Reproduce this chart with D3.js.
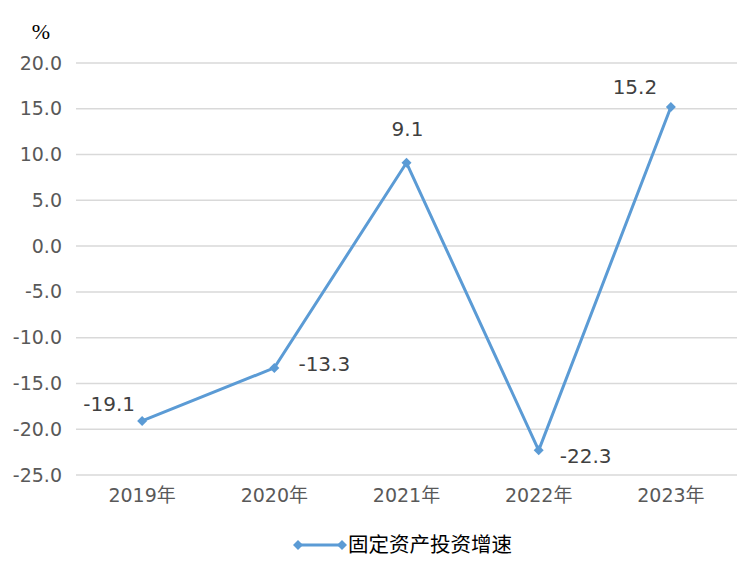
<!DOCTYPE html>
<html>
<head>
<meta charset="utf-8">
<script src="https://cdn.jsdelivr.net/npm/d3@7"></script>
<style>
  body { margin: 0; background: #fff; }
  svg text { font-family: "DejaVu Sans", "Noto Sans CJK SC", sans-serif; }
</style>
</head>
<body>
<div id="chart"></div>
<script>
// values
const years = ['2019年', '2020年', '2021年', '2022年', '2023年'];
const growth = [-19.1, -13.3, 9.1, -22.3, 15.2];
const yTicks = [20, 15, 10, 5, 0, -5, -10, -15, -20, -25];
const seriesName = '固定资产投资增速';

const width = 751, height = 571;
const margin = {top: 63, right: 14, bottom: 96, left: 76};
const innerW = width - margin.left - margin.right,
  innerH = height - margin.top - margin.bottom;
const blue = '#5B9BD5';
// plain hyphen instead of d3's unicode minus
const fmt = d => d.toFixed(1);

const svg = d3.select('#chart').append('svg')
  .attr('width', width)
  .attr('height', height);

const x = d3.scaleBand().domain(years).range([0, innerW]);
const y = d3.scaleLinear().domain([-25, 20]).range([innerH, 0]);

const g = svg.append('g')
  .attr('transform', `translate(${margin.left},${margin.top})`);

// gridlines
g.selectAll('line.grid')
  .data(yTicks)
  .enter().append('line')
    .attr('class', 'grid')
    .attr('x1', 0).attr('x2', innerW)
    .attr('y1', d => y(d)).attr('y2', d => y(d))
    .style('stroke', '#d9d9d9')
    .style('stroke-width', 1.5);

// y axis labels
const yAxis = d3.axisLeft(y).tickValues(yTicks).tickFormat(fmt).tickSize(0).tickPadding(14);
g.append('g').call(yAxis)
  .call(s => s.select('.domain').remove())
  .call(s => s.selectAll('text').style('font-family', '"DejaVu Sans", sans-serif').style('font-size', '19px').style('fill', '#595959'));

// x axis labels
const xAxis = d3.axisBottom(x).tickSize(0).tickPadding(14);
g.append('g').attr('transform', `translate(0,${innerH})`).call(xAxis)
  .call(s => s.select('.domain').remove())
  .call(s => s.selectAll('text')
    .style('font-family', '"DejaVu Sans", "Noto Sans CJK SC", sans-serif')
    .style('font-size', '19px').style('fill', '#595959'));

// percent unit
svg.append('text')
  .attr('x', 41).attr('y', 39)
  .attr('text-anchor', 'middle')
  .style('font-family', '"Liberation Serif", "DejaVu Serif", serif')
  .style('font-size', '22px')
  .style('fill', '#000')
  .text('%');

const cx = d => x(d.year) + x.bandwidth() / 2;
const pts = years.map((yr, i) => ({year: yr, v: growth[i]}));

const line = d3.line().x(cx).y(d => y(d.v));
g.append('path')
  .datum(pts)
  .attr('d', line)
  .style('fill', 'none')
  .style('stroke', blue)
  .style('stroke-width', 3);

// square diamond marker
const diamond = d3.symbol().type(d3.symbolSquare).size(50);
g.selectAll('path.marker')
  .data(pts)
  .enter().append('path')
    .attr('class', 'marker')
    .attr('d', diamond)
    .attr('transform', d => `translate(${cx(d)},${y(d.v)}) rotate(45)`)
    .style('fill', blue);

// data labels: offsets relative to each point
const labelOffsets = [[-33, -17], [50, -4], [1, -34], [47, 6], [-36, -20]];
g.selectAll('text.lbl')
  .data(pts)
  .enter().append('text')
    .attr('class', 'lbl')
    .attr('x', (d, i) => cx(d) + labelOffsets[i][0])
    .attr('y', (d, i) => y(d.v) + labelOffsets[i][1])
    .attr('dy', '0.35em')
    .attr('text-anchor', 'middle')
    .style('font-family', '"DejaVu Sans", sans-serif')
    .style('font-size', '20px')
    .style('fill', '#404040')
    .text(d => fmt(d.v));

// legend
const lg = svg.append('g').attr('transform', 'translate(298,545)');
lg.append('line').attr('x1', 0).attr('x2', 44).attr('y1', 0).attr('y2', 0)
  .style('stroke', blue).style('stroke-width', 3);
lg.selectAll('path').data([0, 44]).enter().append('path')
  .attr('d', diamond)
  .attr('transform', d => `translate(${d},0) rotate(45)`)
  .style('fill', blue);
lg.append('text')
  .attr('x', 50).attr('y', 0).attr('dy', '0.35em')
  .style('font-family', '"Noto Sans CJK SC", sans-serif')
  .style('font-size', '20.5px')
  .style('fill', '#000')
  .text(seriesName);
</script>
</body>
</html>
